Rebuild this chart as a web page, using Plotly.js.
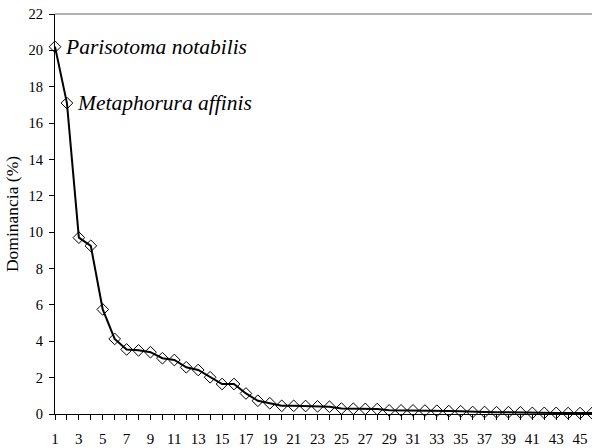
<!DOCTYPE html>
<html>
<head>
<meta charset="utf-8">
<script src="https://cdn.plot.ly/plotly-3.0.1.min.js"></script>
<style>html,body{margin:0;padding:0;background:#fff;}#chart{width:592px;height:448px;}</style>
</head>
<body>
<div id="chart"></div>
<script>
const rank = [1,2,3,4,5,6,7,8,9,10,11,12,13,14,15,16,17,18,19,20,21,22,23,24,25,26,27,28,29,30,31,32,33,34,35,36,37,38,39,40,41,42,43,44,45,46];
const dominance = [20.2,17.1,9.7,9.25,5.75,4.13,3.55,3.5,3.4,3.07,2.97,2.57,2.42,2.02,1.65,1.65,1.13,0.73,0.59,0.45,0.45,0.44,0.42,0.4,0.3,0.29,0.28,0.27,0.2,0.2,0.2,0.19,0.18,0.16,0.15,0.11,0.11,0.1,0.1,0.09,0.06,0.06,0.06,0.05,0.05,0.05];
const labelledSpecies = ["Parisotoma notabilis","Metaphorura affinis"];
const yTicks = [0,2,4,6,8,10,12,14,16,18,20,22];
const xTickText = rank.map(r => (r % 2 === 1 ? String(r) : ""));

const serifFont = "Liberation Serif";

const trace = {
  x: rank, y: dominance, type: "scatter", mode: "lines+markers",
  line: {color: "#000", width: 2},
  marker: {symbol: "diamond-open", size: 9, color: "#000", line: {width: 1, color: "#000"}},
  cliponaxis: false, hoverinfo: "x+y"
};

const annotations = labelledSpecies.map((t, i) => ({
  x: rank[i], y: dominance[i], xref: "x", yref: "y",
  text: "<i>" + t + "</i>", showarrow: false, xanchor: "left", yanchor: "middle",
  xshift: 8, yshift: 0,
  font: {family: serifFont, size: 21.5, color: "#000"}
}));

const layout = {
  width: 592, height: 448,
  margin: {l: 55, r: 0, t: 14, b: 34},
  paper_bgcolor: "#fff", plot_bgcolor: "#fff",
  showlegend: false,
  font: {family: serifFont, color: "#000"},
  xaxis: {
    range: [1, 46], tickmode: "array", tickvals: rank, ticktext: xTickText,
    ticks: "outside", ticklen: 5, tickwidth: 1, tickcolor: "#000",
    showline: true, linecolor: "#000", linewidth: 1,
    showgrid: false, zeroline: false, automargin: false,
    ticklabelstandoff: 6,
    tickfont: {family: serifFont, size: 15, color: "#000"}
  },
  yaxis: {
    range: [0, 22], tickmode: "array", tickvals: yTicks,
    ticks: "outside", ticklen: 5, tickwidth: 1, tickcolor: "#000",
    showline: true, linecolor: "#000", linewidth: 1,
    showgrid: false, zeroline: false, automargin: false,
    ticklabelstandoff: 3,
    tickfont: {family: serifFont, size: 14.5, color: "#000"},
    title: {text: "Dominancia (%)", font: {family: serifFont, size: 17.5, color: "#000"}, standoff: 5}
  },
  shapes: [{type: "line", xref: "paper", yref: "paper", x0: 0, x1: 1, y0: 1, y1: 1,
            line: {color: "#999", width: 1.5}}],
  annotations: annotations
};

Plotly.newPlot("chart", [trace], layout, {displayModeBar: false, staticPlot: true});
</script>
</body>
</html>
